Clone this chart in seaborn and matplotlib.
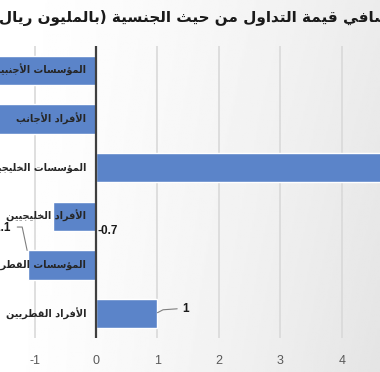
import numpy as np
import pandas as pd
import matplotlib
matplotlib.use("Agg")
import matplotlib.pyplot as plt
import seaborn as sns

# ---------------- data ----------------
title = "صافي قيمة التداول من حيث الجنسية (بالمليون ريال)"
categories = [
    "المؤسسات الأجنبية",
    "الأفراد الأجانب",
    "المؤسسات الخليجية",
    "الأفراد الخليجيين",
    "المؤسسات القطرية",
    "الأفراد القطريين",
]
values = [-2.0, -1.9, 5.3, -0.7, -1.1, 1.0]
value_labels = ["", "", "", "-0.7", "-1.1", "1"]
xticks = [-1, 0, 1, 2, 3, 4]

# ------------- minimal Arabic shaping (presentation forms) -------------
_FORMS = {
    'ء': (0xFE80, 1), 'آ': (0xFE81, 2), 'أ': (0xFE83, 2), 'ؤ': (0xFE85, 2),
    'إ': (0xFE87, 2), 'ئ': (0xFE89, 4), 'ا': (0xFE8D, 2), 'ب': (0xFE8F, 4),
    'ة': (0xFE93, 2), 'ت': (0xFE95, 4), 'ث': (0xFE99, 4), 'ج': (0xFE9D, 4),
    'ح': (0xFEA1, 4), 'خ': (0xFEA5, 4), 'د': (0xFEA9, 2), 'ذ': (0xFEAB, 2),
    'ر': (0xFEAD, 2), 'ز': (0xFEAF, 2), 'س': (0xFEB1, 4), 'ش': (0xFEB5, 4),
    'ص': (0xFEB9, 4), 'ض': (0xFEBD, 4), 'ط': (0xFEC1, 4), 'ظ': (0xFEC5, 4),
    'ع': (0xFEC9, 4), 'غ': (0xFECD, 4), 'ف': (0xFED1, 4), 'ق': (0xFED5, 4),
    'ك': (0xFED9, 4), 'ل': (0xFEDD, 4), 'م': (0xFEE1, 4), 'ن': (0xFEE5, 4),
    'ه': (0xFEE9, 4), 'و': (0xFEED, 2), 'ى': (0xFEEF, 2), 'ي': (0xFEF1, 4),
}
_LAM_ALEF = {'آ': 0xFEF5, 'أ': 0xFEF7, 'إ': 0xFEF9, 'ا': 0xFEFB}
_MIRROR = {'(': ')', ')': '('}


def shape_ar(s):
    toks = []
    i = 0
    while i < len(s):
        c = s[i]
        if c == 'ل' and i + 1 < len(s) and s[i + 1] in _LAM_ALEF:
            toks.append(('LA', s[i + 1]))
            i += 2
        else:
            toks.append(('C', c))
            i += 1

    def jt(t):
        if t[0] == 'LA':
            return 2
        return _FORMS.get(t[1], (0, 0))[1]

    out = []
    for j, t in enumerate(toks):
        n = jt(t)
        if n == 0:
            out.append(_MIRROR.get(t[1], t[1]))
            continue
        prev_j = j > 0 and jt(toks[j - 1]) == 4 and n >= 2
        next_j = n == 4 and j + 1 < len(toks) and jt(toks[j + 1]) >= 2
        if t[0] == 'LA':
            out.append(chr(_LAM_ALEF[t[1]] + (1 if prev_j else 0)))
            continue
        base = _FORMS[t[1]][0]
        if n == 4:
            off = 3 if (prev_j and next_j) else 1 if prev_j else 2 if next_j else 0
        elif n == 2:
            off = 1 if prev_j else 0
        else:
            off = 0
        out.append(chr(base + off))
    return "".join(reversed(out))


# ---------------- figure ----------------
sns.set_theme(style="white")
plt.rcParams['font.family'] = ['DejaVu Sans']

W, H, DPI = 380, 372, 100
fig = plt.figure(figsize=(W / DPI, H / DPI), dpi=DPI)

# soft background gradient
bg = fig.add_axes([0, 0, 1, 1], zorder=-10)
gx, gy = np.meshgrid(np.linspace(0, 1, 200), np.linspace(0, 1, 200))
grad = 1.0 - 0.075 * gx ** 1.4 - 0.03 * gy * gx
bg.imshow(grad, cmap="gray", vmin=0, vmax=1, aspect="auto", extent=[0, 1, 0, 1], origin="upper")
bg.axis("off")

ax_top, ax_bottom = 46 / H, 338 / H
ax = fig.add_axes([0.0, 1 - ax_bottom, 1.0, ax_bottom - ax_top])
ax.set_facecolor("none")

df = pd.DataFrame({"cat": categories, "val": values})
sns.barplot(data=df, x="val", y="cat", orient="h", color="#5B84C9",
            saturation=1, width=0.6, ax=ax, zorder=2)

ax.set_xticks(xticks)
ax.set_xticklabels([str(t) for t in xticks], color="#595959", fontsize=9,
                   fontfamily=['Liberation Sans', 'DejaVu Sans'])
ax.set_xlim(-1.561, 4.618)
ax.set_ylim(5.5, -0.5)
ax.tick_params(axis="x", length=0, pad=12)
ax.set_yticks([])
ax.set_xlabel("")
ax.set_ylabel("")
for sp in ax.spines.values():
    sp.set_visible(False)

for t in xticks:
    if t != 0:
        ax.axvline(t, color="#d9d9d9", lw=1.2, zorder=0)
ax.axvline(0, color="#3f3f3f", lw=1.6, zorder=3)

# category labels next to the axis
for i, c in enumerate(categories):
    ax.text(-0.16, i, shape_ar(c), ha="right", va="center", fontsize=7,
            fontweight="bold", color="#262626", zorder=4)

# data labels
lab_kw = dict(fontsize=8.5, fontweight="bold", color="#1a1a1a", zorder=5,
              fontfamily=['Liberation Sans', 'DejaVu Sans'])
# -0.7
i = 3
ax.text(0.02, i + 0.3, value_labels[i], ha="left", va="center", **lab_kw)
# -1.1 with leader line
i = 4
v = values[i]
ax.plot([v - 0.02, v - 0.1, v - 0.18], [i - 0.3, i - 0.78, i - 0.78],
        color="#7f7f7f", lw=0.8, zorder=5, clip_on=False)
ax.text(v - 0.28, i - 0.76, value_labels[i], ha="right", va="center", **lab_kw)
# 1 with leader line
i = 5
v = values[i]
ax.plot([v, v + 0.09, v + 0.32], [i - 0.02, i - 0.08, i - 0.1],
        color="#7f7f7f", lw=0.8, zorder=5, clip_on=False)
ax.text(v + 0.4, i - 0.09, value_labels[i], ha="left", va="center", **lab_kw)

fig.text(0.5, 1 - 18 / H, shape_ar(title), ha="center", va="center",
         fontsize=11, fontweight="bold", color="#1a1a1a")

fig.savefig("out.png", dpi=DPI)
